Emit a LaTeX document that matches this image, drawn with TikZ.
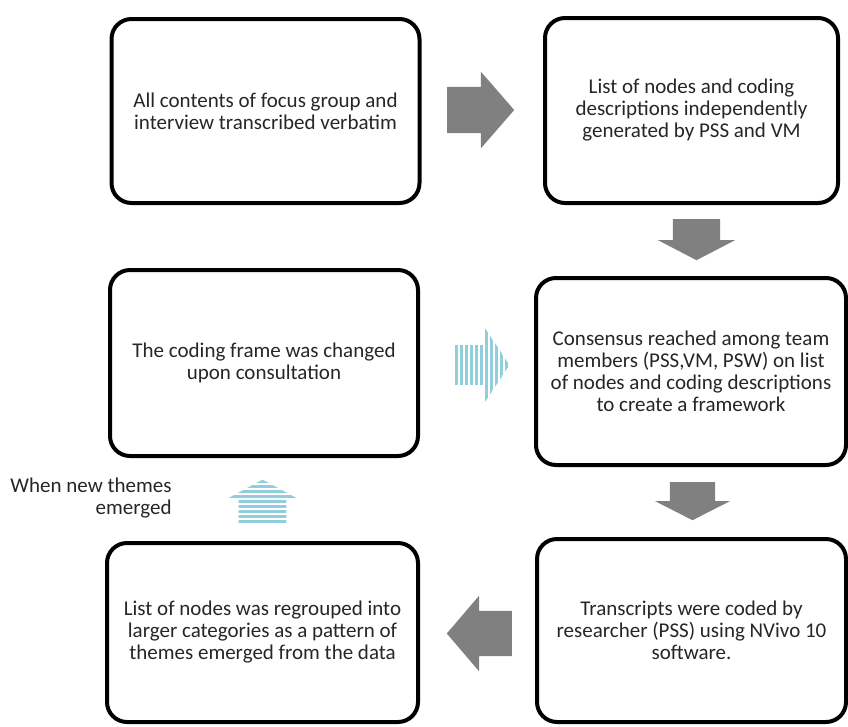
\documentclass[tikz,border=0pt]{standalone}
\usepackage{fontspec}
\setmainfont{Carlito}
\usetikzlibrary{shapes.arrows}
\definecolor{arrowgray}{RGB}{128,128,128}
\definecolor{stripeblue}{RGB}{146,205,220}
\definecolor{textdark}{RGB}{38,38,38}
\tikzset{
  stage/.style={draw, line width=4pt, rounded corners=20pt, align=center, text=textdark,
    font=\fontsize{21}{22}\selectfont},
  blockarrow/.style={single arrow, draw=none, fill=arrowgray, anchor=tail, inner xsep=0pt,
    text width=0pt, text height=0pt, text depth=0pt},
  stripearrow/.style={blockarrow, fill=none},
  stripe/.style={draw=stripeblue, line width=2.8pt}
}
\newcommand{\arrowoutline}[1]{(#1.tip) -- (#1.after tip) -- (#1.after head) -- (#1.before tail)
  -- (#1.after tail) -- (#1.before head) -- (#1.before tip) -- cycle}
\begin{document}
\begin{tikzpicture}[x=1pt,y=-1pt]
\useasboundingbox (0,0) rectangle (848,726);
% Stages
\node[stage, minimum width=308, minimum height=184] (b1) at (265.5,111)
  {All contents of focus group and\\interview transcribed verbatim};
\node[stage, minimum width=293, minimum height=185] (b2) at (691.5,110.5)
  {List of nodes and coding\\descriptions independently\\generated by PSS and VM};
\node[stage, minimum width=308, minimum height=186] (b3) at (264,363)
  {The coding frame was changed\\upon consultation};
\node[stage, minimum width=310, minimum height=187] (b4) at (691,371.5)
  {Consensus reached among team\\members (PSS,VM, PSW) on list\\of nodes and coding descriptions\\to create a framework};
\node[stage, minimum width=311, minimum height=179] (b5) at (262.5,632.5)
  {List of nodes was regrouped into\\larger categories as a pattern of\\themes emerged from the data};
\node[stage, minimum width=309, minimum height=183] (b6) at (691.5,630.5)
  {Transcripts were coded by\\researcher (PSS) using NVivo 10\\software.};
% Block arrows
\node[blockarrow, minimum height=67, inner ysep=23, single arrow head extend=15,
  single arrow tip angle=98] (a12) at (447,110) {};
\node[blockarrow, rotate=-90, minimum height=41, inner ysep=23.5, single arrow head extend=15,
  single arrow tip angle=125] (a24) at (696.5,219) {};
\node[blockarrow, rotate=-90, minimum height=38, inner ysep=22.5, single arrow head extend=15,
  single arrow tip angle=126] (a46) at (692.5,482) {};
\node[blockarrow, rotate=180, minimum height=65, inner ysep=22.5, single arrow head extend=15,
  single arrow tip angle=99] (a65) at (512,633.5) {};
% Striped arrows
\node[stripearrow, minimum height=54, inner ysep=19.5, single arrow head extend=19.5,
  single arrow tip angle=113] (a34) at (455,365) {};
\node[stripearrow, rotate=90, minimum height=43, inner ysep=23.5, single arrow head extend=9.5,
  single arrow tip angle=123] (a53) at (262.5,523) {};
\begin{scope}
  \clip \arrowoutline{a34};
  \foreach \i in {0,...,11} {\draw[stripe] (456.5+5*\i,320) -- (456.5+5*\i,410);}
\end{scope}
\begin{scope}
  \clip \arrowoutline{a53};
  \foreach \i in {0,...,8} {\draw[stripe] (225,521.5-5*\i) -- (300,521.5-5*\i);}
\end{scope}
\node[anchor=east, align=right, text=textdark, font=\fontsize{21}{22}\selectfont] (note) at (175,498)
  {When new themes\\emerged};
\end{tikzpicture}
\end{document}
